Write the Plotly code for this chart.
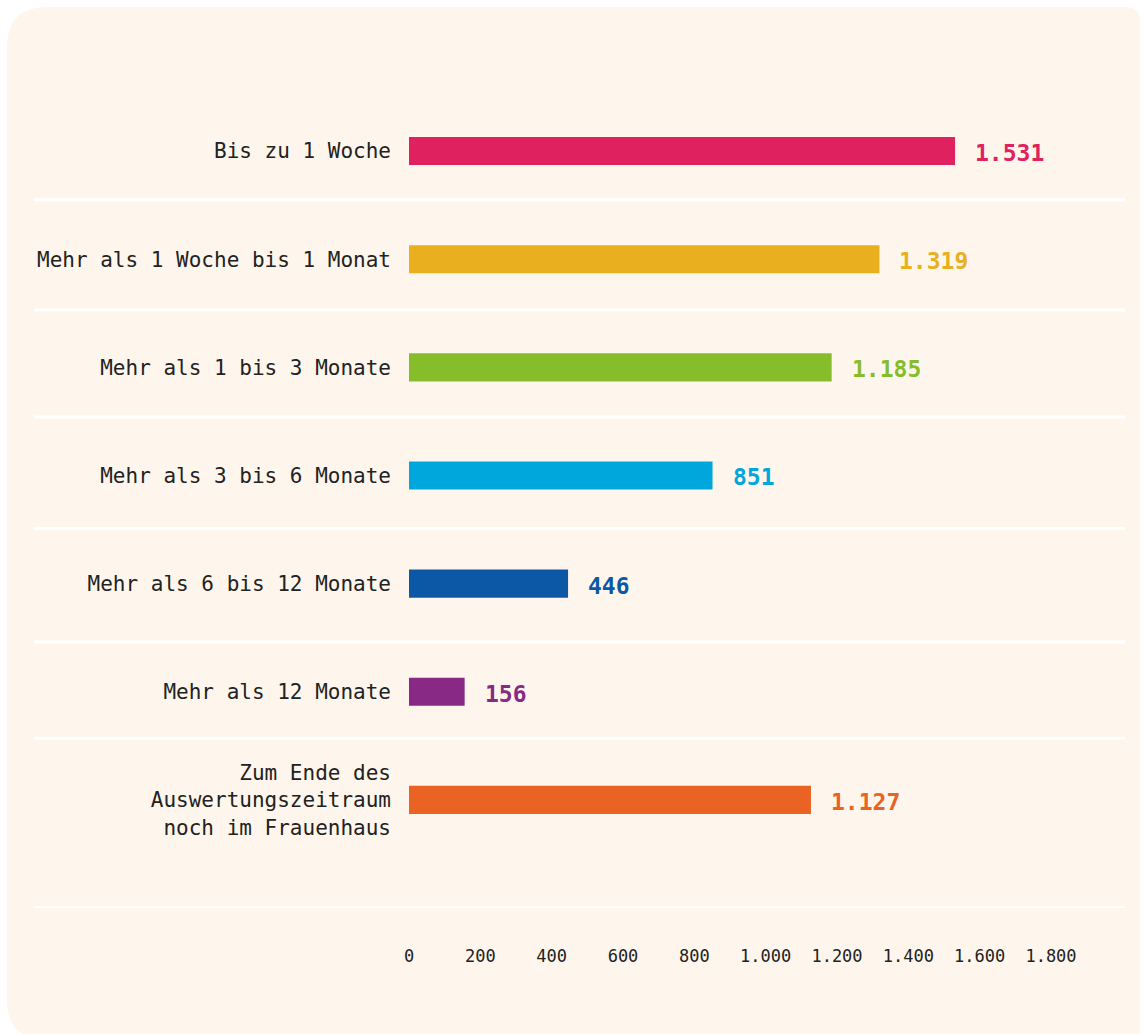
import plotly.graph_objects as go

categories = [
    "Bis zu 1 Woche",
    "Mehr als 1 Woche bis 1 Monat",
    "Mehr als 1 bis 3 Monate",
    "Mehr als 3 bis 6 Monate",
    "Mehr als 6 bis 12 Monate",
    "Mehr als 12 Monate",
    "Zum Ende des<br>Auswertungszeitraum<br>noch im Frauenhaus",
]
values = [1531, 1319, 1185, 851, 446, 156, 1127]
value_labels = ["1.531", "1.319", "1.185", "851", "446", "156", "1.127"]
colors = ["#E0215F", "#E9AF1F", "#86BD2B", "#00A7DD", "#0D58A5", "#882A85", "#E86324"]
tick_vals = [0, 200, 400, 600, 800, 1000, 1200, 1400, 1600, 1800]
tick_text = ["0", "200", "400", "600", "800", "1.000", "1.200", "1.400", "1.600", "1.800"]

W, H = 1142, 1034
L, R, T, B = 409, 1051, 97, 908
PW, PH = R - L, B - T

def px(x):
    return (x - L) / PW

def py(y):
    return (B - y) / PH

fig = go.Figure()
fig.add_trace(go.Bar(
    x=values, y=categories, orientation="h",
    marker=dict(color=colors, line=dict(width=0)),
    width=0.26, hoverinfo="skip", showlegend=False,
))

for v, c, lab, col in zip(values, categories, value_labels, colors):
    fig.add_annotation(
        x=v, y=c, xref="x", yref="y", text=lab, showarrow=False,
        xanchor="left", yanchor="middle", xshift=18, yshift=-2,
        font=dict(family="DejaVu Sans Mono", size=23, color=col, weight="bold"),
    )

# rounded card background
x0, y0, x1, y1 = 7, 7, 1140, 1040
rtl, rtr, rbl = 40, 14, 40
pts = [
    f"M {px(x0 + rtl)},{py(y0)}",
    f"L {px(x1 - rtr)},{py(y0)}",
    f"Q {px(x1)},{py(y0)} {px(x1)},{py(y0 + rtr)}",
    f"L {px(x1)},{py(y1)}",
    f"L {px(x0 + rbl)},{py(y1)}",
    f"Q {px(x0)},{py(y1)} {px(x0)},{py(y1 - rbl)}",
    f"L {px(x0)},{py(y0 + rtl)}",
    f"Q {px(x0)},{py(y0)} {px(x0 + rtl)},{py(y0)}",
    "Z",
]
shapes = [dict(type="path", path=" ".join(pts), xref="paper", yref="paper",
               fillcolor="#FEF6EC", line=dict(width=0), layer="below")]

sep_positions = [0.45, 1.47, 2.46, 3.49, 4.54, 5.43, 7.0]
for s in sep_positions:
    shapes.append(dict(type="line", xref="paper", yref="y", x0=px(34), x1=px(1125),
                       y0=s, y1=s, line=dict(color="white", width=3), layer="below"))

fig.update_layout(
    width=W, height=H,
    margin=dict(l=L, r=W - R, t=T, b=H - B),
    paper_bgcolor="white", plot_bgcolor="rgba(0,0,0,0)",
    shapes=shapes,
    xaxis=dict(range=[0, 1800], tickvals=tick_vals, ticktext=tick_text,
               showgrid=False, zeroline=False, showline=False, ticks="",
               ticklabelstandoff=36,
               tickfont=dict(family="DejaVu Sans Mono", size=17, color="#222222"),
               fixedrange=True),
    yaxis=dict(type="category", categoryorder="array", categoryarray=categories,
               range=[7.0, -0.5], showgrid=False, zeroline=False, showline=False,
               ticks="", ticklabelstandoff=17,
               tickfont=dict(family="DejaVu Sans Mono", size=21, color="#222222"),
               fixedrange=True),
)

fig.write_html("out.html")
